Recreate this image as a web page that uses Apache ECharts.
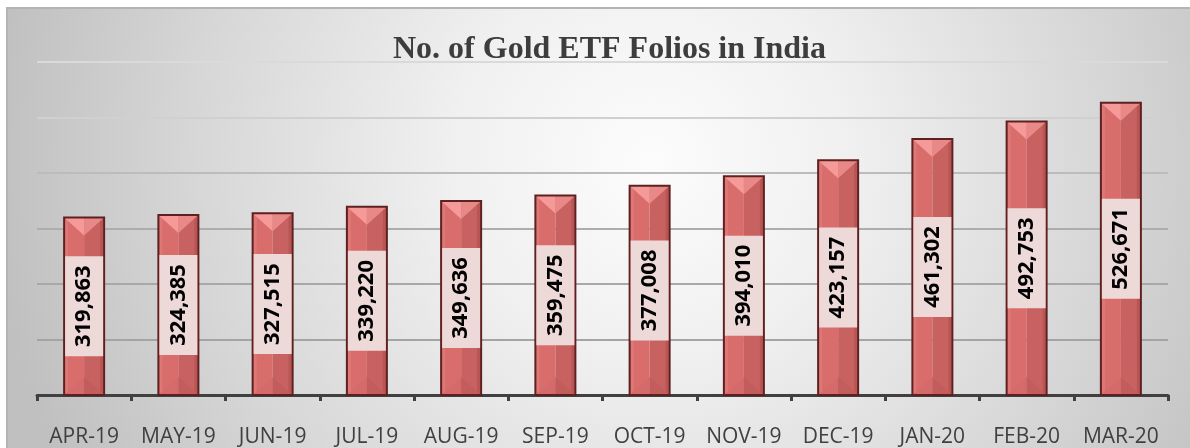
<!DOCTYPE html>
<html>
<head>
<meta charset="utf-8">
<script src="https://cdn.jsdelivr.net/npm/echarts@6/dist/echarts.min.js"></script>
<style>
html,body{margin:0;padding:0;background:#fff;}
#chart{width:1190px;height:448px;}
</style>
</head>
<body>
<div id="chart"></div>
<script>
const categories = ['APR-19','MAY-19','JUN-19','JUL-19','AUG-19','SEP-19','OCT-19','NOV-19','DEC-19','JAN-20','FEB-20','MAR-20'];
const folios = [319863, 324385, 327515, 339220, 349636, 359475, 377008, 394010, 423157, 461302, 492753, 526671];
const titleText = 'No. of Gold ETF Folios in India';

const chart = echarts.init(document.getElementById('chart'), null, {renderer: 'canvas'});

function renderBar(params, api) {
  const idx = api.value(0);
  const val = api.value(1);
  const topPt = api.coord([idx, val]);
  const basePt = api.coord([idx, 0]);
  const w = 40;
  const cx = topPt[0];
  const l = cx - w / 2, r = cx + w / 2;
  const t = topPt[1], b = basePt[1];
  const h = b - t;
  const bev = 18;
  const midY = (t + b) / 2;
  const boxH = 100;
  const label = Number(val).toLocaleString('en-US');
  return {
    type: 'group',
    children: [
      {type: 'rect', shape: {x: l, y: t, width: w / 2, height: h}, style: {fill: '#d86d6c'}},
      {type: 'rect', shape: {x: cx, y: t, width: w / 2, height: h}, style: {fill: '#c86261'}},
      {type: 'rect', shape: {x: l + 1, y: t, width: 3, height: h}, style: {fill: '#de7877'}},
      {type: 'rect', shape: {x: r - 4, y: t, width: 3, height: h}, style: {fill: '#b85555'}},
      {type: 'polygon', shape: {points: [[l, t], [cx, t], [cx, t + bev]]}, style: {fill: '#f59a99'}},
      {type: 'polygon', shape: {points: [[cx, t], [r, t], [cx, t + bev]]}, style: {fill: '#e88988'}},
      {type: 'polygon', shape: {points: [[l, b], [cx, b], [cx, b - bev]]}, style: {fill: '#d46b6a'}},
      {type: 'polygon', shape: {points: [[cx, b], [r, b], [cx, b - bev]]}, style: {fill: '#c25d5c'}},
      {type: 'rect', shape: {x: l, y: t, width: w, height: h}, style: {fill: null, stroke: '#5e2020', lineWidth: 2}},
      {type: 'rect', shape: {x: l + 1, y: midY - boxH / 2, width: w - 2, height: boxH}, style: {fill: '#eed9d9'}},
      {type: 'text', x: cx, y: midY, rotation: Math.PI / 2,
       style: {text: label, x: 0, y: 0, align: 'center', verticalAlign: 'middle',
               font: 'bold 22px "Open Sans", sans-serif', fill: '#000'}}
    ]
  };
}

const option = {
  backgroundColor: '#ffffff',
  animation: false,
  graphic: [{
    type: 'rect', z: -100, silent: true,
    shape: {x: 7, y: 8, width: 1190, height: 448},
    style: {
      fill: new echarts.graphic.RadialGradient(650, 160, 660, [
        {offset: 0, color: '#fcfcfc'},
        {offset: 0.3, color: '#f0f0f0'},
        {offset: 0.7, color: '#d6d6d6'},
        {offset: 1, color: '#c0c0c0'}
      ], true),
      stroke: '#b4b4b4', lineWidth: 2
    }
  }],
  title: {
    text: titleText,
    left: 388,
    top: 29,
    textStyle: {fontFamily: '"Liberation Serif", "Times New Roman", serif', fontWeight: 'bold', fontSize: 32, color: '#3d3d3d'}
  },
  grid: {left: 37, right: 22, top: 62, bottom: 51, containLabel: false},
  xAxis: {
    type: 'category',
    data: categories,
    boundaryGap: true,
    axisLine: {show: true, lineStyle: {color: '#404040', width: 3}},
    axisTick: {show: true, length: 6, lineStyle: {color: '#404040', width: 3}},
    axisLabel: {color: '#404040', fontSize: 21, fontFamily: '"Open Sans", sans-serif', margin: 32, interval: 0}
  },
  yAxis: {
    type: 'value',
    min: 0, max: 600000, interval: 100000,
    axisLine: {show: false},
    axisTick: {show: false},
    axisLabel: {show: false},
    splitLine: {show: true, lineStyle: {width: 2, color: ['#a0a0a0', '#a4a4a4', '#a8a8a8', '#adadad', '#bcbcbc', '#d0d0d0', '#dadada']}}
  },
  series: [{
    type: 'custom',
    renderItem: renderBar,
    data: folios.map((v, i) => [i, v]),
    encode: {x: 0, y: 1},
    z: 3
  }]
};
chart.setOption(option);
</script>
</body>
</html>
